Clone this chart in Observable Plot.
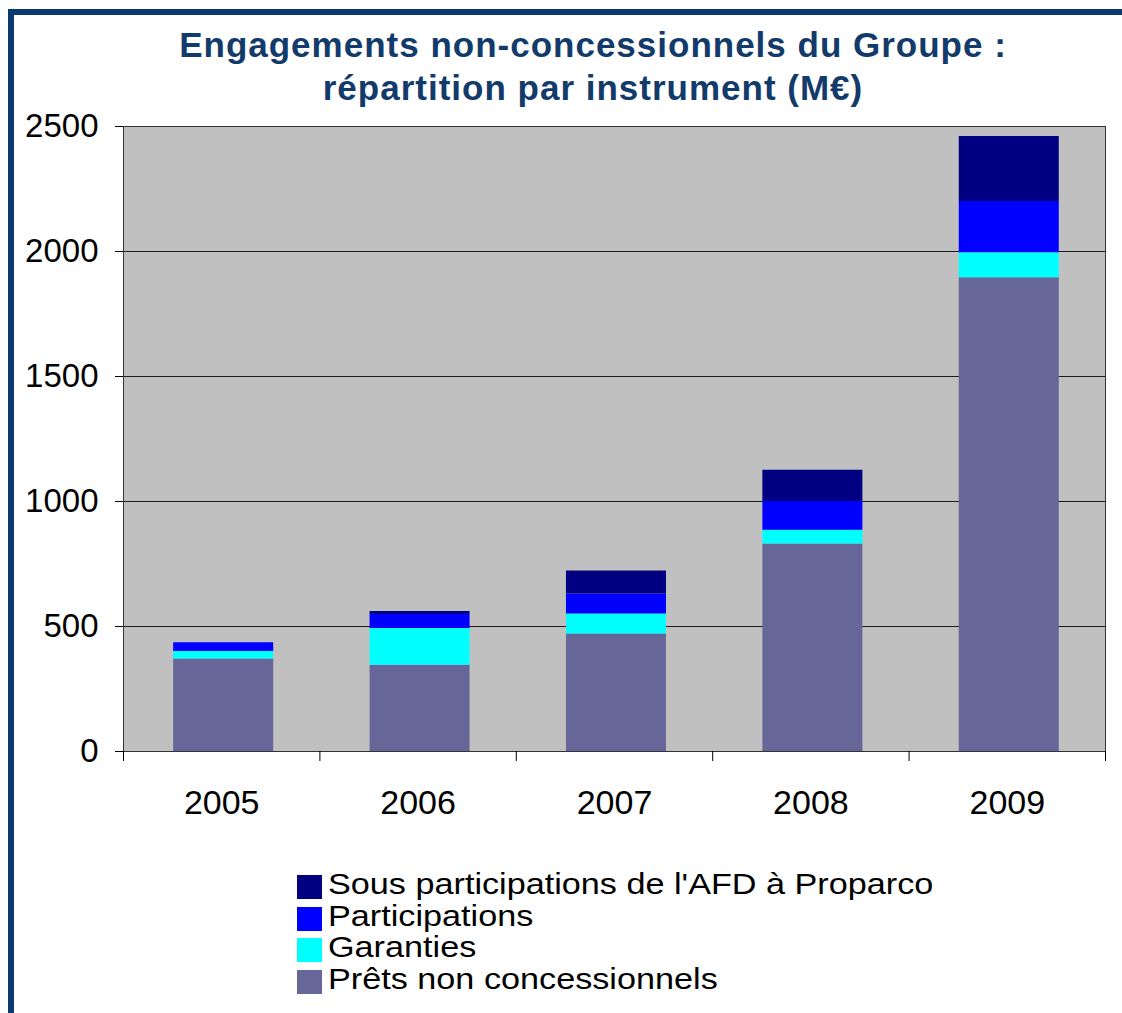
<!DOCTYPE html>
<html>
<head>
<meta charset="utf-8">
<script src="https://cdn.jsdelivr.net/npm/d3@7"></script>
<script src="https://cdn.jsdelivr.net/npm/@observablehq/plot@0.6"></script>
<style>
  html, body { margin: 0; padding: 0; background: #fff; overflow: hidden; }
  #wrap { position: relative; width: 1122px; height: 1013px; overflow: hidden; font-family: Arial, "Liberation Sans", sans-serif; }
  #border { position: absolute; left: 8px; top: 9px; width: 1300px; height: 1200px; border-top: 6px solid #0B3A6E; border-left: 6px solid #0B3A6E; box-sizing: border-box; }
  #chart { position: absolute; left: 0; top: 0; }
  #title { position: absolute; left: 93px; top: 23px; width: 1000px; text-align: center; font-weight: bold; font-size: 35px; line-height: 43px; letter-spacing: 1px; color: #123B6B; }
  .leg { position: absolute; left: 297px; height: 31px; line-height: 31px; font-size: 30px; color: #000; white-space: nowrap; }
  .leg .sw { position: absolute; left: 0; top: 7px; width: 25px; height: 24px; }
  .leg .tx { position: absolute; left: 31px; top: 0; transform: scaleX(1.14); transform-origin: 0 0; }
</style>
</head>
<body>
<div id="wrap">
  <div id="border"></div>
  <div id="chart"></div>
  <div id="title">Engagements non-concessionnels du Groupe :<br>répartition par instrument (M€)</div>
  <div id="legend"></div>
</div>
<script>
// ---- Data ----
const years = [2005, 2006, 2007, 2008, 2009];
const seriesNames = ["Prêts non concessionnels", "Garanties", "Participations", "Sous participations de l'AFD à Proparco"];
const seriesColors = ["#666699", "#00FFFF", "#0000FF", "#000080"];
const prets = [370, 345, 470, 830, 1895];
const garanties = [30, 147, 80, 55, 100];
const participations = [35, 56, 80, 115, 205];
const sousParticipations = [0, 12, 92, 125, 260];
const yTicks = [0, 500, 1000, 1500, 2000, 2500];
const legendOrder = [3, 2, 1, 0];

// ---- Build stacked table ----
const seriesValues = [prets, garanties, participations, sousParticipations];
const rows = [];
years.forEach((yr, i) => {
  let base = 0;
  seriesValues.forEach((vals, s) => {
    const v = vals[i];
    rows.push({year: yr, series: seriesNames[s], y1: base, y2: base + v});
    base += v;
  });
});
const boundaries = years.map(y => y - 0.5).concat([years[years.length - 1] + 0.5]);
const half = 0.2546;
const shift = 0.01;

const plot = Plot.plot({
  width: 1122,
  height: 830,
  marginTop: 126,
  marginBottom: 79,
  marginLeft: 123,
  marginRight: 17,
  style: {fontFamily: "Arial, 'Liberation Sans', sans-serif", color: "#000", background: "transparent"},
  x: {type: "linear", domain: [years[0] - 0.5, years[years.length - 1] + 0.5]},
  y: {domain: [0, 2500]},
  color: {domain: seriesNames, range: seriesColors},
  marks: [
    Plot.frame({fill: "#C0C0C0", stroke: null}),
    Plot.gridY(yTicks, {stroke: "#000", strokeOpacity: 0.85, strokeWidth: 1}),
    Plot.rect(rows, {x1: d => d.year + shift - half, x2: d => d.year + shift + half, y1: "y1", y2: "y2", fill: "series"}),
    Plot.frame({stroke: "#333", strokeWidth: 1}),
    Plot.axisY({ticks: yTicks, tickSize: 8, tickPadding: 17, fontSize: 33, tickFormat: d => String(d)}),
    Plot.axisX({ticks: boundaries, tickSize: 10, tickFormat: () => ""}),
    Plot.axisX({ticks: years, tickSize: 0, tickPadding: 38, fontSize: 34, tickFormat: d => String(d)})
  ]
});
document.getElementById("chart").appendChild(plot);

// ---- Legend ----
const legend = document.getElementById("legend");
const tops = [868, 899.5, 931, 962.5];
legendOrder.forEach((s, k) => {
  const row = document.createElement("div");
  row.className = "leg";
  row.style.top = tops[k] + "px";
  const sw = document.createElement("div");
  sw.className = "sw";
  sw.style.background = seriesColors[s];
  const tx = document.createElement("span");
  tx.className = "tx";
  tx.textContent = seriesNames[s];
  row.appendChild(sw);
  row.appendChild(tx);
  legend.appendChild(row);
});
</script>
</body>
</html>
